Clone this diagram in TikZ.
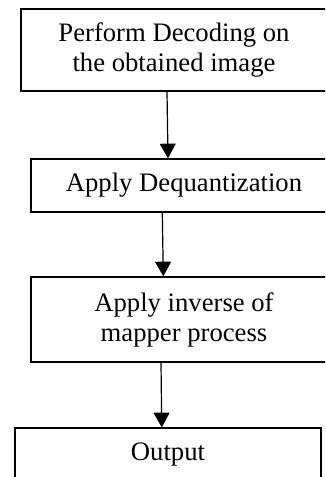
\documentclass[tikz,border=0pt]{standalone}
\usepackage{fontspec}
\setmainfont{Liberation Serif}
\usetikzlibrary{arrows.meta}

\tikzset{
  stepbox/.style={draw, line width=1pt, minimum width=229.5pt, inner sep=0pt,
    align=center, font=\fontsize{20}{22.5}\selectfont},
  flowarrow/.style={line width=0.9pt, -{Triangle[width=12pt,length=11pt]}}
}

\begin{document}
\begin{tikzpicture}[x=0.75pt,y=0.75pt,yscale=-1,xscale=1]
\useasboundingbox (0,0) rectangle (325,477);
\clip (0,0) rectangle (325,477);

%Shape: Rectangle [decode]
\node[stepbox, minimum height=61.5pt] (decode) at (174,50) {Perform Decoding on\\the obtained image};
%Shape: Rectangle [dequant]
\node[stepbox, minimum height=39.75pt] (dequant) at (184,185.5) {Apply Dequantization};
%Shape: Rectangle [mapper]
\node[stepbox, minimum height=63.75pt] (mapper) at (184,319.5) {Apply inverse of\\mapper process};
%Shape: Rectangle [output]
\node[stepbox, minimum height=40.5pt] (output) at (168,455) {Output};

%Straight Lines
\draw[flowarrow] ([xshift=-5.25pt]decode.south) -- ([xshift=-12pt]dequant.north);
%Straight Lines
\draw[flowarrow] ([xshift=-16.3pt]dequant.south) -- ([xshift=-15.5pt]mapper.north);
%Straight Lines
\draw[flowarrow] ([xshift=-17.25pt]mapper.south) -- ([xshift=-4.7pt]output.north);

\end{tikzpicture}
\end{document}
